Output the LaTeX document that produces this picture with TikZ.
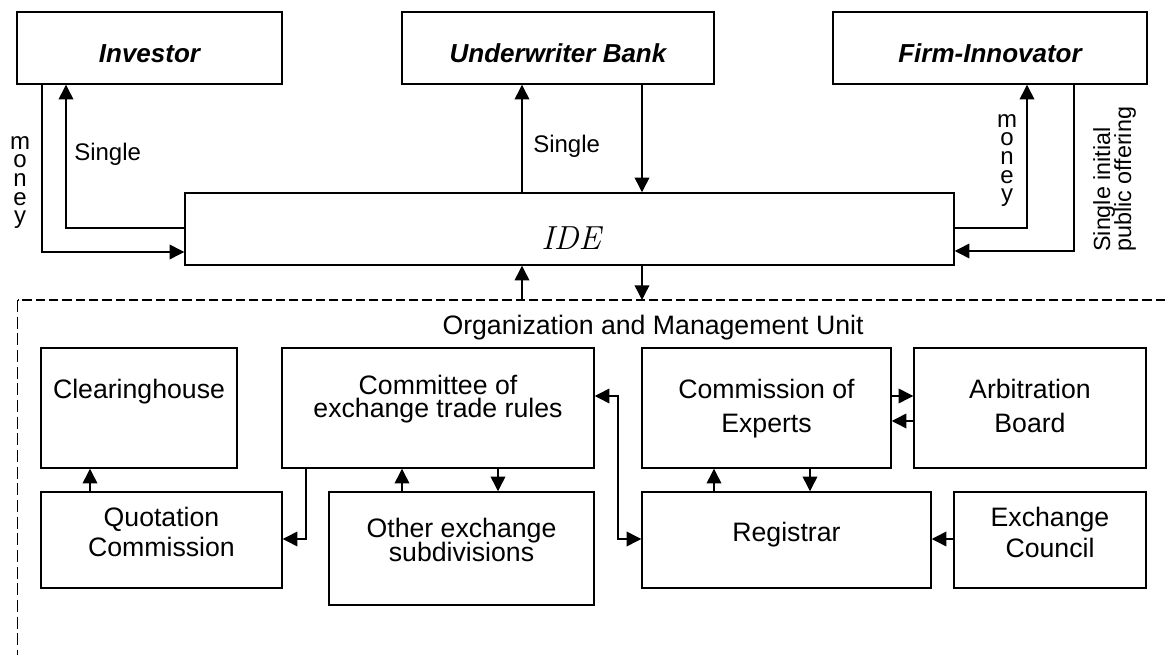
\documentclass[tikz,border=0pt]{standalone}
\usepackage{fontspec}
\newfontfamily\arial{Liberation Sans}
\usetikzlibrary{arrows.meta,fit}
\begin{document}
\begin{tikzpicture}[x=0.75pt,y=-0.75pt,
  >={Triangle[length=11pt,width=11pt]},
  box/.style={draw, line width=1.1pt, inner sep=0pt, fit={#1}},
  conn/.style={line width=1.1pt},
  lbl/.style={font=\arial\fontsize{20}{24}\selectfont, inner sep=0pt, anchor=base},
  hd/.style={font=\arial\bfseries\itshape\fontsize{19.5}{23}\selectfont, inner sep=0pt, anchor=base},
  sm/.style={font=\arial\fontsize{18}{22}\selectfont, inner sep=0pt, anchor=base west},
  stack/.style={font=\arial\fontsize{18}{14}\selectfont, inner sep=0pt, align=center, anchor=north},
  rot/.style={font=\arial\fontsize{17.5}{21}\selectfont, inner sep=0pt, rotate=90, anchor=base west},
  frame/.style={line width=1pt}
]
\useasboundingbox (0,0) rectangle (1165,655);

% ---------- top boxes ----------
\node[box={(17,12) (282,84)}] (inv) {};
\node[box={(402,12) (714,84)}] (ub) {};
\node[box={(833,12) (1147,84)}] (fi) {};
\node[box={(185,193) (954,265)}] (ide) {};

\node[hd] (tinv) at (149.5,63) {Investor};
\node[hd] (tub) at (558,63) {Underwriter Bank};
\node[hd] (tfi) at (990,63) {Firm-Innovator};
\node[font=\itshape\fontsize{25}{28}\selectfont, inner sep=0pt, anchor=base] (tide) at (571,250) {IDE};

% ---------- lower boxes ----------
\node[box={(41,348) (237,468)}] (clr) {};
\node[box={(282,348) (594,468)}] (com) {};
\node[box={(642,348) (891,468)}] (coe) {};
\node[box={(914,348) (1146,468)}] (arb) {};
\node[box={(41,492) (282,588)}] (quo) {};
\node[box={(329,492) (594,605)}] (oth) {};
\node[box={(642,492) (931,588)}] (reg) {};
\node[box={(954,492) (1146,588)}] (exc) {};

\node[lbl] (tclr) at (139,399) {Clearinghouse};
\node[lbl] (tcom1) at (438,395) {Committee of};
\node[lbl] (tcom2) at (438,418) {exchange trade rules};
\node[lbl] (tcoe1) at (766.5,399) {Commission of};
\node[lbl] (tcoe2) at (766.5,433) {Experts};
\node[lbl] (tarb1) at (1030,399) {Arbitration};
\node[lbl] (tarb2) at (1030,433) {Board};
\node[lbl] (tquo1) at (161.5,527) {Quotation};
\node[lbl] (tquo2) at (161.5,557) {Commission};
\node[lbl] (toth1) at (461.5,538) {Other exchange};
\node[lbl] (toth2) at (461.5,562) {subdivisions};
\node[lbl] (treg) at (786.5,542) {Registrar};
\node[lbl] (texc1) at (1050,527) {Exchange};
\node[lbl] (texc2) at (1050,558) {Council};

\node[lbl] (tunit) at (653,335) {Organization and Management Unit};

% ---------- small labels ----------
\node[sm] (ls1) at (74,161) {Single};
\node[sm] (ls2) at (533,153) {Single};
\node[stack] (lm1) at (20,136) {m\\o\\n\\e\\y};
\node[stack] (lm2) at (1007,114) {m\\o\\n\\e\\y};
\node[rot] (lr1) at (1110,252) {Single initial};
\node[rot] (lr2) at (1131,252) {public offering};

% ---------- helper coordinates ----------
\coordinate (xa) at (42,252);
\coordinate (xb) at (66,228);
\coordinate (xc) at (522,300);
\coordinate (xd) at (642,300);
\coordinate (xe) at (1027,228);
\coordinate (xf) at (1074,251);
\coordinate (q1) at (90,480);
\coordinate (q2) at (306,539);
\coordinate (q3) at (402,480);
\coordinate (q4) at (498,480);
\coordinate (k1) at (618,396);
\coordinate (k2) at (618,539);
\coordinate (r1) at (714,480);
\coordinate (r2) at (810,480);
\coordinate (a1) at (902,396);
\coordinate (a2) at (902,421);
\coordinate (e1) at (942,539);
\coordinate (f1) at (1165,300);
\coordinate (f2) at (17.7,300);
\coordinate (f3) at (17.7,655);

% ---------- dashed unit frame ----------
\draw[frame, dash pattern=on 7pt off 3pt] (f1) -- (f2);
\draw[frame, dash pattern=on 9pt off 3.5pt] (f2) -- (f3);

% ---------- top connectors ----------
\draw[conn,->] (inv.south -| xa) -- (xa) -- (ide.west |- xa);
\draw[conn,->] (ide.west |- xb) -- (xb) -- (inv.south -| xb);
\draw[conn,->] (ide.north -| xc) -- (ub.south -| xc);
\draw[conn,->] (ub.south -| xd) -- (ide.north -| xd);
\draw[conn,->] (ide.east |- xe) -- (xe) -- (fi.south -| xe);
\draw[conn,->] (fi.south -| xf) -- (xf) -- (ide.east |- xf);
\draw[conn,->] (xc) -- (ide.south -| xc);
\draw[conn,->] (ide.south -| xd) -- (xd);

% ---------- lower connectors ----------
\draw[conn,->] (quo.north -| q1) -- (clr.south -| q1);
\draw[conn,->] (com.south -| q2) -- (q2) -- (quo.east |- q2);
\draw[conn,->] (oth.north -| q3) -- (com.south -| q3);
\draw[conn,->] (com.south -| q4) -- (oth.north -| q4);
\draw[conn,<->] (com.east |- k1) -- (k1) -- (k2) -- (reg.west |- k2);
\draw[conn,->] (reg.north -| r1) -- (coe.south -| r1);
\draw[conn,->] (coe.south -| r2) -- (reg.north -| r2);
\draw[conn,->] (coe.east |- a1) -- (arb.west |- a1);
\draw[conn,->] (arb.west |- a2) -- (coe.east |- a2);
\draw[conn,->] (exc.west |- e1) -- (reg.east |- e1);
\end{tikzpicture}
\end{document}
